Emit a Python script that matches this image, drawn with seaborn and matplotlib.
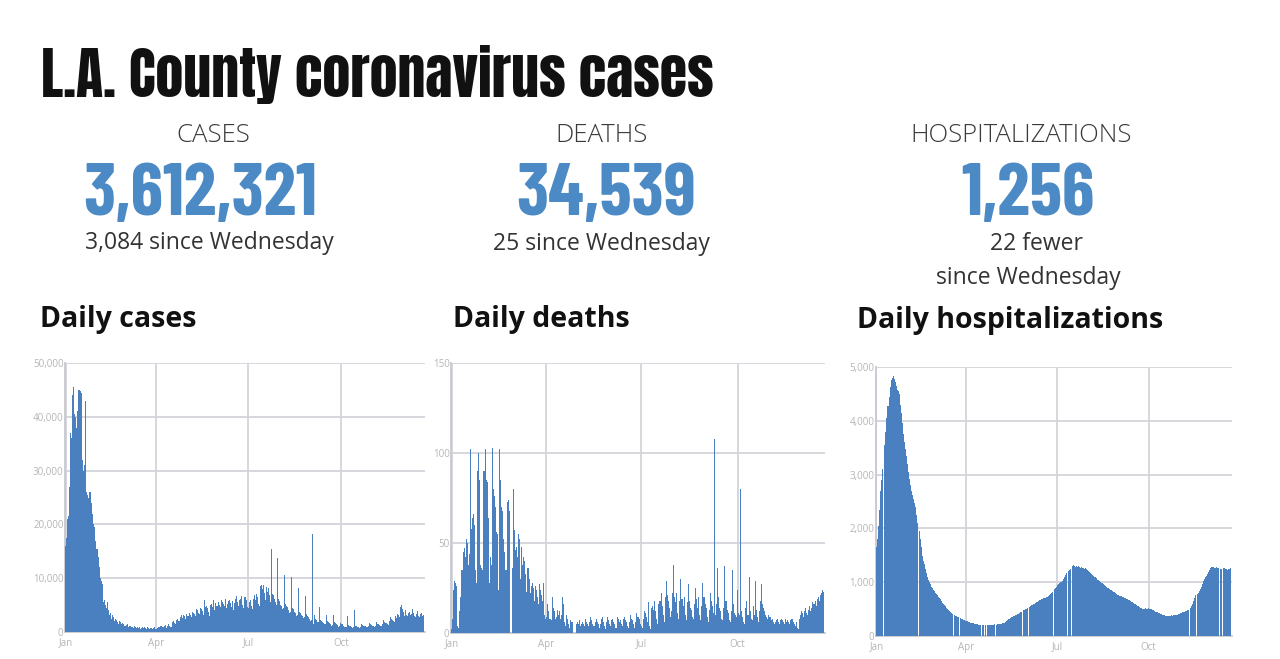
import numpy as np
import pandas as pd
import matplotlib
matplotlib.use("Agg")
import matplotlib.pyplot as plt
import seaborn as sns
from matplotlib import font_manager as fm
from matplotlib.ticker import FuncFormatter, FixedLocator

sns.set_theme(style="white")
plt.rcParams['font.family'] = ['Open Sans', 'DejaVu Sans']

# ---------------- data (day 0 = Jan 1, 2022) ----------------
cases_thousands = [
    16.0, 17.5, 21.0, 21.5, 27.0, 37.0, 36.0,
    44.0, 45.5, 40.5, 40.0, 38.0, 41.0, 45.0,
    45.0, 44.8, 44.5, 32.0, 30.0, 31.0, 43.0,
    26.0, 25.5, 25.0, 26.0, 26.0, 24.0, 22.0,
    20.0, 19.5, 17.0, 15.5, 15.5, 14.0, 12.0,
    10.0, 9.5, 9.0, 5.5, 6.0, 5.0, 4.5,
    5.5, 4.0, 3.2, 3.6, 2.5, 3.2, 2.8,
    2.0, 2.4, 2.2, 1.8, 1.5, 2.1, 1.9,
    1.4, 1.6, 1.5, 1.2, 1.3, 1.4, 1.0,
    1.1, 1.2, 0.9, 1.0, 0.8, 1.1, 0.9,
    0.8, 1.0, 0.7, 0.9, 0.6, 0.8, 0.9,
    0.7, 0.9, 0.8, 0.6, 0.9, 0.7, 0.6,
    0.8, 0.7, 0.5, 0.8, 0.9, 0.6, 0.5,
    0.8, 1.0, 0.9, 1.2, 1.1, 0.9, 1.0,
    1.2, 1.3, 0.8, 1.1, 1.5, 1.2, 0.9,
    1.0, 1.8, 2.0, 1.7, 1.5, 2.2, 2.4,
    2.1, 2.0, 2.8, 3.1, 2.6, 3.2, 3.0,
    2.5, 3.3, 3.0, 2.9, 3.5, 3.2, 2.7,
    3.8, 3.6, 3.4, 3.0, 4.2, 4.0, 3.6,
    3.3, 4.4, 4.2, 3.9, 3.2, 5.9, 4.6,
    4.8, 4.5, 3.8, 3.0, 5.0, 5.2, 4.6,
    6.0, 4.1, 5.3, 4.8, 4.9, 5.5, 5.0,
    4.6, 6.0, 5.6, 5.2, 4.8, 6.2, 4.4,
    5.2, 5.8, 6.0, 5.3, 4.7, 5.8, 4.0,
    5.4, 6.2, 6.6, 5.5, 4.9, 5.9, 6.2,
    6.6, 5.0, 4.5, 6.5, 6.0, 4.6, 4.5,
    5.5, 6.0, 4.8, 4.2, 6.1, 6.8, 5.9,
    7.0, 6.5, 5.2, 4.8, 8.6, 8.8, 8.0,
    8.7, 7.2, 6.0, 8.4, 7.5, 8.2, 6.8,
    5.5, 15.5, 7.0, 6.8, 6.2, 5.5, 5.0,
    13.7, 6.2, 5.8, 5.0, 4.8, 4.2, 4.5,
    10.6, 5.2, 4.9, 4.6, 4.0, 3.6, 3.8,
    10.3, 4.5, 4.2, 3.8, 3.5, 3.0, 3.2,
    8.1, 3.8, 3.5, 3.2, 2.9, 2.6, 2.8,
    6.6, 3.3, 3.0, 2.7, 2.4, 2.0, 2.2,
    18.3, 1.5, 3.2, 2.4, 2.2, 1.9, 1.8,
    4.7, 2.3, 2.1, 1.8, 1.6, 1.4, 1.5,
    3.2, 2.0, 1.8, 1.6, 1.4, 1.2, 1.3,
    3.2, 1.8, 1.6, 1.4, 1.3, 1.0, 1.1,
    1.6, 1.5, 1.4, 1.2, 1.0, 0.9, 1.0,
    3.0, 1.3, 1.2, 1.1, 1.0, 0.8, 0.9,
    4.1, 1.2, 1.1, 1.0, 0.9, 0.8, 1.0,
    1.5, 1.3, 1.2, 1.1, 1.0, 0.9, 1.1,
    1.6, 1.4, 1.3, 1.2, 1.1, 1.0, 1.2,
    1.8, 1.5, 1.4, 1.3, 1.2, 1.1, 1.4,
    2.2, 1.9, 1.7, 1.6, 1.4, 1.3, 2.0,
    2.8, 2.5, 2.2, 2.0, 1.8, 3.0, 2.6,
    3.4, 3.1, 2.8, 4.6, 5.0, 4.2, 3.8,
    3.0, 4.0, 3.2, 2.9, 3.5, 3.8, 3.1,
    3.3, 4.2, 3.6, 3.0, 2.8, 3.4, 3.9,
    3.0, 2.7, 3.3, 3.5, 2.9, 3.1,
]

deaths = [
    2, 8, 24, 29, 28, 26, 4,
    3, 12, 20, 35, 45, 47, 42,
    52, 50, 38, 44, 102, 58, 64,
    66, 60, 35, 28, 90, 100, 85,
    38, 36, 35, 90, 102, 85, 84,
    64, 28, 42, 38, 103, 80, 76,
    70, 56, 55, 24, 102, 85, 70,
    68, 52, 45, 35, 73, 74, 68,
    0, 0, 36, 80, 57, 46, 48,
    42, 55, 52, 30, 48, 38, 42,
    40, 33, 23, 36, 30, 22, 26,
    28, 25, 18, 26, 24, 20, 16,
    27, 24, 21, 18, 28, 10, 8,
    9, 16, 12, 8, 7, 20, 14,
    12, 8, 9, 13, 10, 12, 8,
    10, 20, 16, 6, 4, 10, 8,
    5, 3, 7, 6, 0, 0, 0,
    5, 6, 5, 7, 4, 5, 6,
    5, 4, 8, 6, 5, 4, 6,
    9, 7, 5, 4, 6, 8, 6,
    5, 3, 5, 8, 9, 6, 4,
    2, 6, 9, 7, 5, 4, 7,
    8, 6, 5, 3, 9, 8, 6,
    7, 5, 4, 8, 9, 7, 6,
    4, 3, 6, 10, 8, 7, 5,
    3, 6, 11, 9, 8, 5, 4,
    3, 8, 12, 11, 9, 6, 17,
    4, 2, 14, 15, 13, 18, 12,
    8, 5, 16, 18, 22, 15, 10,
    6, 20, 29, 21, 18, 14, 9,
    12, 22, 38, 20, 17, 22, 11,
    8, 18, 30, 19, 15, 20, 10,
    7, 17, 27, 18, 14, 13, 9,
    8, 16, 25, 19, 14, 20, 10,
    7, 15, 28, 20, 16, 14, 9,
    6, 13, 22, 18, 15, 11, 108,
    10, 16, 36, 20, 14, 12, 8,
    7, 14, 37, 18, 13, 11, 7,
    6, 12, 35, 16, 11, 10, 9,
    24, 11, 10, 80, 12, 9, 6,
    5, 14, 18, 10, 31, 12, 8,
    7, 15, 10, 29, 13, 9, 6,
    12, 18, 27, 16, 14, 12, 10,
    9, 8, 10, 9, 7, 8, 6,
    5, 6, 7, 8, 6, 5, 7,
    8, 7, 6, 5, 8, 6, 7,
    6, 5, 7, 8, 6, 5, 4,
    6, 3, 2, 8, 10, 12, 11,
    9, 12, 14, 11, 10, 13, 15,
    12, 14, 17, 16, 18, 15, 19,
    20, 18, 21, 22, 24, 23,
]

hospitalizations = [
    1650, 1800, 2050, 2350, 2700, 2900, 3100,
    None, 3550, 3800, 4050, 4270, 4280, 4450,
    4620, 4750, 4800, 4830, 4780, 4720, 4650,
    4580, 4550, 4500, 4300, 4150, 3950, 3750,
    3600, 3480, 3350, 3200, 3050, 2920, 2800,
    2700, 2620, 2550, 2480, 2400, 2250, 2100,
    None, 1950, 1800, 1650, 1480, 1400, 1330,
    1250, 1180, 1100, 1050, 1000, 960, 920,
    890, 860, 830, 800, 780, 760, 730,
    700, 680, 650, 620, 600, 570, 550,
    525, 505, 490, 470, 450, 430, 410,
    None, 390, 380, 370, 355, 345, None,
    330, 320, 310, 300, 295, 285, 275,
    270, 265, 255, 250, 245, 240, 235,
    230, 225, 220, 215, 210, 210, 205,
    None, 205, 200, None, 205, None, 200,
    205, 210, 205, 200, 210, 205, 215,
    None, 210, 215, 220, 215, 225, 230,
    235, 240, 250, 260, 275, 290, 310,
    325, 335, 345, 355, 365, 375, 385,
    390, 400, 410, 425, 440, 455, None,
    480, 490, 500, 510, 520, None, 540,
    555, 570, 580, 590, 600, 615, 630,
    640, 650, 660, 670, 680, 690, 700,
    710, 715, 720, 730, 745, 760, 780,
    800, 820, None, 860, 880, 900, 920,
    940, 960, 980, 1000, 1010, 1030, 1060,
    1100, 1140, 1170, None, 1210, 1230, 1250,
    None, 1300, 1320, 1310, 1290, 1300, 1280,
    1310, 1290, 1270, 1280, 1260, 1270, 1250,
    1260, 1240, 1220, 1200, 1190, 1170, 1150,
    1140, 1120, 1100, 1090, 1070, 1050, 1040,
    1020, 1000, 990, 980, 960, 940, 930,
    910, 900, 890, 870, 860, 850, 830,
    820, 810, 790, 780, 770, 760, 750,
    740, 735, 730, 720, 710, 700, 690,
    680, 670, 660, 650, 640, 630, 610,
    600, 590, 570, 560, 550, 540, 525,
    515, 510, 505, 510, 515, 510, 505,
    515, 510, 500, 495, 490, 475, 465,
    455, 450, 440, 430, 420, 410, 400,
    395, 390, 385, 380, 380, 375, 380,
    375, 380, 385, 380, 385, 390, 385,
    390, 395, 400, 410, 420, 430, 440,
    445, 450, 460, 470, 480, 490, None,
    520, 560, 600, 650, 700, 760, None,
    780, 800, 830, 870, 920, 970, 1020,
    1060, 1090, 1110, 1150, 1190, 1230, 1260,
    1280, 1290, 1280, 1260, 1270, 1280, 1270,
    1260, None, 1250, 1240, None, 1270, 1260,
    1250, 1240, 1230, 1240, 1250, 1256,
]

month_ticks = [0, 90, 181, 273]
month_labels = ["Jan", "Apr", "Jul", "Oct"]

headline = "L.A. County coronavirus cases"
stat_labels = ["CASES", "DEATHS", "HOSPITALIZATIONS"]
stat_totals = ["3,612,321", "34,539", "1,256"]
stat_changes = ["3,084 since Wednesday", "25 since Wednesday", "22 fewer\nsince Wednesday"]
chart_titles = ["Daily cases", "Daily deaths", "Daily hospitalizations"]
y_ticks = [[0, 10000, 20000, 30000, 40000, 50000],
           [0, 50, 100, 150],
           [0, 1000, 2000, 3000, 4000, 5000]]

# ---------------- figure ----------------
W, H = 1280, 659
fig = plt.figure(figsize=(12.8, 6.59), dpi=100)
fig.patch.set_facecolor("white")

BLUE = "#4a7fc0"
NUM_BLUE = "#4b8ac4"
GRID = "#d3d3db"

def fx(px):
    return px / W

def fy(py):
    return 1 - py / H

installed = {f.name for f in fm.fontManager.ttflist}
def pick(cands):
    for n in cands:
        if n in installed:
            return [n, 'DejaVu Sans']
    return ['DejaVu Sans']

HEAD = pick(['Anton', 'Barlow Condensed'])
COND = pick(['Barlow Condensed', 'Roboto'])
BODY = pick(['Open Sans', 'Roboto'])
head_weight = 'normal' if HEAD[0] == 'Anton' else 800

renderer = fig.canvas.get_renderer()

title = fig.text(fx(41), fy(97), headline, family=HEAD, fontweight=head_weight,
                 fontsize=50, color="#111111", va='baseline', ha='left')
tw = title.get_window_extent(renderer).width
title.set_fontsize(50 * 672 / tw)

label_centers = [213, 601, 1021]
number_centers = [200, 606, 1028]
for i in range(3):
    fig.text(fx(label_centers[i]), fy(142), stat_labels[i], family=BODY,
             fontsize=18.5, color="#3a3a3a", ha='center', va='baseline',
             fontweight='light')
    fig.text(fx(number_centers[i]), fy(215), stat_totals[i], family=COND,
             fontweight=700, fontsize=53, color=NUM_BLUE, ha='center',
             va='baseline')

fig.text(fx(209), fy(249), stat_changes[0], family=BODY, fontsize=16.5,
         color="#333333", ha='center', va='baseline')
fig.text(fx(601), fy(250), stat_changes[1], family=BODY, fontsize=16.5,
         color="#333333", ha='center', va='baseline')
change3_lines = stat_changes[2].split("\n")
fig.text(fx(1036), fy(250), change3_lines[0], family=BODY, fontsize=16.5,
         color="#333333", ha='center', va='baseline')
fig.text(fx(1028), fy(284), change3_lines[1], family=BODY, fontsize=16.5,
         color="#333333", ha='center', va='baseline')

title_pos = [(40, 327), (453, 327), (857, 328)]
for (tx, ty), t in zip(title_pos, chart_titles):
    fig.text(fx(tx), fy(ty), t, family=BODY, fontsize=20.5, fontweight='bold',
             color="#111111", ha='left', va='baseline')

# axes rects in pixels: left, top, right, bottom
rects = [(65, 363, 425, 632), (451, 363, 825, 633), (876, 367, 1232, 636)]
series = [[v * 1000 for v in cases_thousands], deaths, hospitalizations]

for k, ((l, t, r, b), vals, yt) in enumerate(zip(rects, series, y_ticks)):
    ax = fig.add_axes([fx(l), fy(b), fx(r - l), (b - t) / H])
    df = pd.DataFrame({"day": np.arange(len(vals)),
                       "value": pd.to_numeric(pd.Series(vals), errors="coerce")})
    sns.barplot(data=df, x="day", y="value", native_scale=True, width=1.0,
                color=BLUE, linewidth=0, errorbar=None, saturation=1, ax=ax,
                zorder=3)
    ax.set_xlim(-0.5, 356.5)
    ax.set_ylim(0, yt[-1])
    ax.set_xlabel("")
    ax.set_ylabel("")
    ax.xaxis.set_major_locator(FixedLocator(month_ticks))
    ax.set_xticklabels(month_labels)
    ax.yaxis.set_major_locator(FixedLocator(yt))
    ax.yaxis.set_major_formatter(FuncFormatter(lambda v, p: f"{int(v):,}"))
    ax.grid(True, color=GRID, linewidth=1.3, zorder=0)
    ax.set_axisbelow(True)
    for s in ["top", "right"]:
        ax.spines[s].set_visible(False)
    for s in ["left", "bottom"]:
        ax.spines[s].set_color("#c8c8d0")
        ax.spines[s].set_linewidth(1.3)
    ax.tick_params(axis='both', labelsize=7, colors="#b5b5b5", length=0, pad=4)
    ax.tick_params(axis='y', pad=1)
    for lab in ax.get_xticklabels() + ax.get_yticklabels():
        lab.set_family(BODY)
    ax.set_facecolor("white")

fig.savefig("out.png", dpi=100, facecolor="white")
